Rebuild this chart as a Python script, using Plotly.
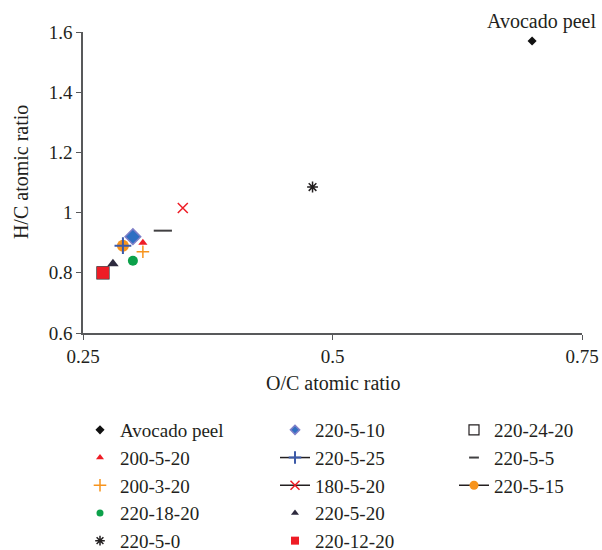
import plotly.graph_objects as go

names = ["Avocado peel", "200-5-20", "200-3-20", "220-18-20", "220-5-0",
         "220-5-10", "220-5-25", "180-5-20", "220-5-20", "220-12-20",
         "220-24-20", "220-5-5", "220-5-15"]
oc = [0.70, 0.31, 0.31, 0.30, 0.48,
      0.30, 0.29, 0.35, 0.28, 0.27,
      0.27, 0.33, 0.29]
hc = [1.57, 0.90, 0.87, 0.84, 1.085,
      0.92, 0.89, 1.015, 0.83, 0.80,
      0.80, 0.94, 0.89]

styles = {
    "Avocado peel": dict(symbol="diamond", size=7, lsize=7, color="#111111", mode="markers"),
    "200-5-20": dict(symbol="triangle-up", size=8, lsize=7, color="#ee1c25", mode="markers"),
    "200-3-20": dict(symbol="cross-thin-open", size=9, lsize=9, color="#f7941d", mode="markers", lw=1.5),
    "220-18-20": dict(symbol="circle", size=10, lsize=7, color="#0ca14a", mode="markers"),
    "220-5-0": dict(symbol="asterisk-open", size=9, lsize=8, color="#231f20", mode="markers", lw=1.5),
    "220-5-10": dict(symbol="diamond", size=12, lsize=7, color="#2f6fc2", mode="markers", line="#7f7fc8"),
    "220-5-25": dict(symbol="cross-thin-open", size=12, lsize=9, color="#3c5aa8", mode="lines+markers", lw=2),
    "180-5-20": dict(symbol="x-thin-open", size=10, lsize=9, color="#ee1c25", mode="lines+markers", lw=1.5),
    "220-5-20": dict(symbol="triangle-up", size=10, lsize=7, color="#2d2a3e", mode="markers"),
    "220-12-20": dict(symbol="square", size=12, lsize=8, color="#ee1c25", mode="markers"),
    "220-24-20": dict(symbol="square-open", size=12, lsize=10, color="#231f20", mode="markers", lw=1.2),
    "220-5-5": dict(symbol="line-ew-open", size=13, lsize=7, color="#414042", mode="markers", lw=2),
    "220-5-15": dict(symbol="circle", size=12, lsize=9, color="#f7941d", mode="lines+markers"),
}


def marker(s, size):
    mk = dict(symbol=s["symbol"], size=size, color=s["color"])
    if "lw" in s:
        mk["line"] = dict(color=s["color"], width=s["lw"])
    elif "line" in s:
        mk["line"] = dict(color=s["line"], width=1.5)
    else:
        mk["line"] = dict(width=0)
    return mk


draw_order = ["Avocado peel", "220-24-20", "200-5-20", "200-3-20", "220-18-20", "220-5-0",
              "220-5-10", "220-5-15", "220-5-25", "180-5-20", "220-5-20", "220-12-20", "220-5-5"]

fig = go.Figure()
# data marks
for n in draw_order:
    i = names.index(n)
    s = styles[n]
    fig.add_trace(go.Scatter(x=[oc[i]], y=[hc[i]], name=n, mode="markers",
                             marker=marker(s, s["size"]), showlegend=False))

# legend entries (three columns)
for i, n in enumerate(names):
    s = styles[n]
    leg = "legend" if i < 5 else ("legend2" if i < 10 else "legend3")
    fig.add_trace(go.Scatter(x=[None], y=[None], name=n, mode=s["mode"],
                             marker=marker(s, s["lsize"]),
                             line=dict(color="#231f20", width=1.5),
                             legend=leg, legendrank=i + 1))

font = "Liberation Serif"
tfont = dict(family=font, size=20, color="#231f20")
kfont = dict(family=font, size=19, color="#231f20")
lfont = dict(family=font, size=19, color="#231f20")
fig.add_annotation(x=oc[0], y=hc[0], text="Avocado peel", showarrow=False,
                   yanchor="bottom", yshift=6, xshift=9, font=tfont)
# axis titles (paper coords: plot area is 83..582 px wide, 32..333 px tall)
fig.add_annotation(x=0.501, y=-0.166, xref="paper", yref="paper",
                   text="O/C atomic ratio", showarrow=False, xanchor="center", yanchor="middle",
                   font=tfont)
fig.add_annotation(x=-0.124, y=0.535, xref="paper", yref="paper",
                   text="H/C atomic ratio", showarrow=False, textangle=-90,
                   xanchor="center", yanchor="middle", font=tfont)

leg_common = dict(font=lfont, bgcolor="rgba(0,0,0,0)",
                  xref="container", yref="container", xanchor="left", yanchor="top",
                  tracegroupgap=0, traceorder="normal")
fig.update_layout(
    width=602, height=550,
    margin=dict(l=83, r=20, t=32, b=217, autoexpand=False),
    plot_bgcolor="white", paper_bgcolor="white",
    font=tfont,
    xaxis=dict(range=[0.25, 0.75], tickvals=[0.25, 0.5, 0.75], ticktext=["0.25", "0.5", "0.75"],
               showgrid=False, zeroline=False, showline=True, linecolor="#58595b", linewidth=1.5,
               ticks="outside", ticklen=5, tickcolor="#58595b", tickfont=kfont),
    yaxis=dict(range=[0.6, 1.6], tickvals=[0.6, 0.8, 1.0, 1.2, 1.4, 1.6],
               ticktext=["0.6", "0.8", "1", "1.2", "1.4", "1.6"],
               showgrid=False, zeroline=False, showline=True, linecolor="#58595b", linewidth=1.5,
               ticks="outside", ticklen=5, tickcolor="#58595b", tickfont=kfont),
    legend=dict(x=80 / 602, y=1 - 411 / 550, **leg_common),
    legend2=dict(x=275 / 602, y=1 - 411 / 550, **leg_common),
    legend3=dict(x=454 / 602, y=1 - 411 / 550, **leg_common),
)

fig.write_html("out.html", config={"displayModeBar": False},
               post_script="document.body.style.margin='0';document.body.style.padding='0';")
